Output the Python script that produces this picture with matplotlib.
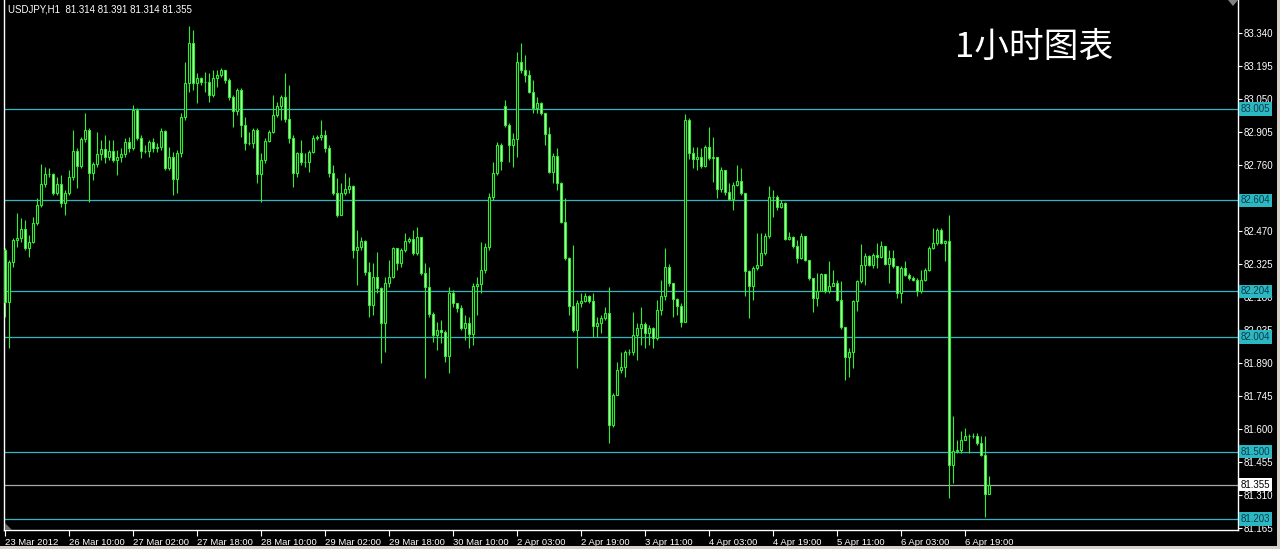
import numpy as np
import matplotlib.pyplot as plt
from matplotlib.patches import Rectangle, Polygon
from matplotlib.transforms import blended_transform_factory

# USDJPY H1 candles, 23 Mar 2012 - 6 Apr 2012
closes = [
    82.159, 82.335, 82.430, 82.438, 82.477, 82.394, 82.423, 82.504, 82.584, 82.676,
    82.720, 82.720, 82.638, 82.676, 82.591, 82.638, 82.706, 82.823, 82.757, 82.874,
    82.914, 82.726, 82.764, 82.808, 82.829, 82.794, 82.823, 82.782, 82.794, 82.808,
    82.862, 82.833, 83.002, 82.877, 82.823, 82.823, 82.862, 82.833, 82.840, 82.909,
    82.745, 82.794, 82.697, 82.814, 82.969, 83.119, 83.294, 83.119, 83.141, 83.123,
    83.126, 83.067, 83.141, 83.155, 83.177, 83.133, 83.057, 82.999, 83.089, 82.936,
    82.855, 82.858, 82.914, 82.720, 82.782, 82.867, 82.906, 82.980, 83.019, 83.057,
    82.961, 82.877, 82.726, 82.811, 82.775, 82.775, 82.818, 82.877, 82.881, 82.892,
    82.833, 82.726, 82.635, 82.540, 82.635, 82.653, 82.668, 82.386, 82.401, 82.427,
    82.291, 82.145, 82.266, 82.218, 82.067, 82.240, 82.269, 82.394, 82.328, 82.386,
    82.427, 82.433, 82.372, 82.442, 82.284, 82.222, 82.105, 82.013, 82.035, 82.028,
    81.921, 82.199, 82.152, 82.130, 82.042, 82.067, 82.017, 82.228, 82.237, 82.299,
    82.398, 82.618, 82.726, 82.848, 82.779, 82.936, 82.848, 82.873, 83.214, 83.177,
    83.155, 83.082, 83.009, 83.034, 82.987, 82.896, 82.731, 82.799, 82.679, 82.511,
    82.350, 82.140, 82.035, 82.152, 82.164, 82.184, 82.164, 82.052, 82.067, 82.086,
    82.111, 81.617, 81.749, 81.859, 81.874, 81.940, 81.940, 82.013, 82.042, 82.061,
    82.020, 82.042, 81.999, 82.123, 82.185, 82.311, 82.240, 82.170, 82.141, 82.068,
    82.958, 82.812, 82.785, 82.794, 82.756, 82.841, 82.790, 82.794, 82.653, 82.736,
    82.639, 82.610, 82.673, 82.690, 82.636, 82.292, 82.226, 82.306, 82.321, 82.375,
    82.446, 82.621, 82.621, 82.574, 82.592, 82.434, 82.443, 82.405, 82.350, 82.446,
    82.343, 82.262, 82.175, 82.208, 82.281, 82.208, 82.226, 82.240, 82.167, 82.047,
    81.918, 81.940, 82.160, 82.248, 82.321, 82.361, 82.321, 82.365, 82.355, 82.402,
    82.325, 82.350, 82.314, 82.199, 82.306, 82.277, 82.262, 82.255, 82.204, 82.255,
    82.299, 82.394, 82.416, 82.475, 82.419, 82.424, 81.442, 81.501, 81.508, 81.552,
    81.570, 81.567, 81.570, 81.537, 81.486, 81.314, 81.355,
]
highs = [
    82.394, 82.343, 82.438, 82.548, 82.526, 82.518, 82.452, 82.533, 82.613, 82.764,
    82.753, 82.745, 82.723, 82.709, 82.716, 82.650, 82.738, 82.914, 82.833, 82.884,
    82.987, 82.921, 82.775, 82.906, 82.870, 82.892, 82.870, 82.870, 82.826, 82.833,
    82.877, 82.884, 83.024, 83.009, 82.892, 82.848, 82.870, 82.877, 82.855, 82.921,
    82.914, 82.840, 82.818, 82.826, 82.987, 83.214, 83.371, 83.353, 83.163, 83.148,
    83.170, 83.163, 83.177, 83.177, 83.185, 83.177, 83.141, 83.067, 83.097, 83.097,
    82.972, 82.906, 82.921, 82.921, 82.811, 82.877, 82.914, 83.067, 83.038, 83.067,
    83.166, 83.111, 82.892, 82.818, 82.870, 82.811, 82.826, 82.892, 82.892, 82.958,
    82.914, 82.848, 82.760, 82.701, 82.679, 82.723, 82.709, 82.672, 82.474, 82.445,
    82.430, 82.335, 82.328, 82.379, 82.225, 82.269, 82.342, 82.401, 82.394, 82.394,
    82.460, 82.445, 82.474, 82.489, 82.442, 82.328, 82.313, 82.115, 82.071, 82.079,
    82.035, 82.225, 82.211, 82.152, 82.145, 82.101, 82.093, 82.240, 82.269, 82.423,
    82.416, 82.635, 82.774, 82.862, 82.855, 83.045, 82.943, 82.899, 83.258, 83.294,
    83.243, 83.177, 83.133, 83.060, 83.038, 82.987, 82.928, 82.811, 82.833, 82.687,
    82.613, 82.357, 82.408, 82.167, 82.196, 82.196, 82.189, 82.196, 82.093, 82.101,
    82.137, 82.225, 81.756, 81.896, 81.940, 81.947, 81.950, 82.115, 82.064, 82.137,
    82.071, 82.056, 82.050, 82.167, 82.255, 82.394, 82.325, 82.240, 82.175, 82.153,
    82.984, 82.965, 82.841, 82.841, 82.834, 82.848, 82.929, 82.885, 82.797, 82.753,
    82.738, 82.680, 82.687, 82.760, 82.746, 82.636, 82.299, 82.314, 82.460, 82.460,
    82.460, 82.668, 82.651, 82.629, 82.607, 82.599, 82.467, 82.446, 82.431, 82.463,
    82.446, 82.343, 82.262, 82.284, 82.284, 82.281, 82.340, 82.299, 82.255, 82.248,
    82.050, 81.955, 82.167, 82.255, 82.413, 82.372, 82.365, 82.372, 82.416, 82.424,
    82.402, 82.387, 82.387, 82.317, 82.314, 82.336, 82.284, 82.270, 82.262, 82.299,
    82.306, 82.402, 82.482, 82.482, 82.482, 82.431, 82.541, 81.658, 81.552, 81.589,
    81.603, 81.578, 81.581, 81.581, 81.567, 81.567, 81.391,
]
lows = [
    82.094, 81.954, 82.313, 82.401, 82.423, 82.386, 82.357, 82.416, 82.496, 82.577,
    82.665, 82.709, 82.628, 82.628, 82.577, 82.540, 82.628, 82.694, 82.657, 82.745,
    82.862, 82.599, 82.694, 82.753, 82.782, 82.767, 82.782, 82.775, 82.716, 82.775,
    82.797, 82.818, 82.826, 82.870, 82.789, 82.811, 82.797, 82.818, 82.818, 82.826,
    82.738, 82.738, 82.628, 82.635, 82.797, 82.958, 83.082, 83.089, 83.031, 83.111,
    83.082, 83.038, 83.060, 83.104, 83.148, 83.119, 83.046, 82.928, 82.980, 82.884,
    82.826, 82.848, 82.833, 82.679, 82.599, 82.767, 82.862, 82.899, 82.972, 82.958,
    82.950, 82.855, 82.665, 82.709, 82.760, 82.753, 82.731, 82.811, 82.870, 82.870,
    82.818, 82.709, 82.628, 82.533, 82.540, 82.628, 82.635, 82.350, 82.233, 82.386,
    82.277, 82.093, 82.101, 82.196, 81.888, 81.940, 82.225, 82.262, 82.299, 82.313,
    82.379, 82.416, 82.364, 82.364, 82.277, 81.823, 82.093, 81.984, 81.947, 81.976,
    81.896, 81.844, 82.137, 82.115, 82.035, 81.991, 81.954, 81.969, 82.101, 82.196,
    82.284, 82.386, 82.606, 82.716, 82.738, 82.928, 82.774, 82.753, 82.796, 83.163,
    83.126, 83.075, 82.987, 82.987, 82.980, 82.848, 82.723, 82.679, 82.650, 82.504,
    82.342, 82.101, 82.028, 81.866, 82.137, 82.159, 82.152, 82.006, 82.006, 82.020,
    82.079, 81.537, 81.610, 81.749, 81.844, 81.830, 81.925, 81.925, 81.903, 81.969,
    81.954, 81.969, 81.955, 81.992, 82.101, 82.167, 82.226, 82.094, 82.101, 82.050,
    82.068, 82.785, 82.746, 82.738, 82.746, 82.753, 82.782, 82.687, 82.614, 82.643,
    82.629, 82.607, 82.563, 82.668, 82.629, 82.182, 82.087, 82.167, 82.299, 82.314,
    82.365, 82.438, 82.533, 82.563, 82.570, 82.431, 82.431, 82.394, 82.331, 82.346,
    82.336, 82.255, 82.112, 82.138, 82.204, 82.199, 82.199, 82.226, 82.160, 82.038,
    81.816, 81.830, 81.867, 82.116, 82.240, 82.233, 82.314, 82.306, 82.306, 82.350,
    82.321, 82.240, 82.306, 82.175, 82.153, 82.270, 82.255, 82.248, 82.182, 82.199,
    82.248, 82.292, 82.390, 82.409, 82.413, 82.336, 81.296, 81.362, 81.494, 81.494,
    81.552, 81.494, 81.559, 81.530, 81.479, 81.215, 81.314,
]
first_open = 82.386
gap_opens = {125: 83.019}  # weekend gap 30 Mar -> 2 Apr

levels = [83.005, 82.604, 82.204, 82.004, 81.500, 81.203]
bid = 81.355
price_ticks = [83.340, 83.195, 83.050, 82.905, 82.760, 82.615, 82.470, 82.325,
               82.180, 82.035, 81.890, 81.745, 81.600, 81.455, 81.310, 81.165]
hidden_ticks = [82.615]  # fully covered by the 82.604 tag in the original
time_pos = [0, 16, 32, 48, 64, 80, 96, 112, 128, 144, 160, 176, 192, 208, 224, 240]
time_labels = ['23 Mar 2012', '26 Mar 10:00', '27 Mar 02:00', '27 Mar 18:00',
               '28 Mar 10:00', '29 Mar 02:00', '29 Mar 18:00', '30 Mar 10:00',
               '2 Apr 03:00', '2 Apr 19:00', '3 Apr 11:00', '4 Apr 03:00',
               '4 Apr 19:00', '5 Apr 11:00', '6 Apr 03:00', '6 Apr 19:00']
header = 'USDJPY,H1  81.314 81.391 81.314 81.355'
title = '1小时图表'

closes = np.array(closes)
highs = np.array(highs)
lows = np.array(lows)
opens = np.concatenate([[first_open], closes[:-1]])
for k, v in gap_opens.items():
    opens[k] = v
idx = np.arange(len(closes))

LIME = '#2ef02e'
PALE = '#c4ffbc'
CYAN = '#2cb8c2'
FONT = 'Liberation Sans'

W, H = 1280, 549
fig = plt.figure(figsize=(W / 100, H / 100), dpi=100, facecolor='black')
ax = fig.add_axes([4 / W, (H - 530) / H, 1234 / W, 530 / H])
ax.set_facecolor('black')
ax.set_xlim(-0.25, 308.25)
ax.set_ylim(81.1557, 83.485)

for lv in levels:
    ax.axhline(lv, color=CYAN, lw=0.9, zorder=1)
ax.axhline(bid, color='#a8a8a8', lw=0.9, zorder=1)

# wicks then bodies
ax.vlines(idx, lows, highs, color=LIME, lw=0.8, zorder=2)
bull = closes >= opens
bottoms = np.minimum(opens, closes)
heights = np.abs(closes - opens)
ax.bar(idx[bull], heights[bull], bottom=bottoms[bull], width=0.62,
       facecolor='black', edgecolor=LIME, linewidth=0.8, zorder=3)
ax.bar(idx[~bull], heights[~bull], bottom=bottoms[~bull], width=0.62,
       facecolor=PALE, edgecolor=LIME, linewidth=0.8, zorder=3)

for s in ['left', 'right', 'bottom']:
    ax.spines[s].set_color('white')
    ax.spines[s].set_linewidth(1.0)
ax.spines['top'].set_visible(False)

ax.yaxis.tick_right()
ax.set_yticks(price_ticks)
ax.set_yticklabels(['' if p in hidden_ticks else '%.3f' % p for p in price_ticks])
ax.tick_params(axis='y', colors='white', length=3, width=0.8, pad=1,
               labelsize=7, labelfontfamily=FONT)
ax.set_xticks(time_pos)
ax.set_xticklabels(time_labels, ha='left')
ax.tick_params(axis='x', colors='white', length=4, width=0.8, pad=2,
               labelsize=6.8, labelfontfamily=FONT)

trans = blended_transform_factory(ax.transAxes, ax.transData)
for lv in levels:
    ax.text(1.0 + 3 / 1234, lv, '%.3f' % lv, transform=trans, ha='left', va='center',
            fontsize=7, family=FONT, color='#0c3a48', zorder=10, clip_on=False,
            bbox=dict(boxstyle='square,pad=0.18', fc=CYAN, ec='none'))
ax.text(1.0 + 3 / 1234, bid, '%.3f' % bid, transform=trans, ha='left', va='center',
        fontsize=7, family=FONT, color='black', zorder=10, clip_on=False,
        bbox=dict(boxstyle='square,pad=0.18', fc='white', ec='none'))

fig.text(8 / W, 1 - 9 / H, header, color='white', fontsize=7, family=FONT,
         ha='left', va='center')
fig.text(955 / W, 1 - 47 / H, title, color='white', fontsize=25,
         family=['Noto Sans CJK SC', 'DejaVu Sans'], ha='left', va='center')

# small markers and window frame
fig.patches.append(Polygon([[1228 / W, 1.0], [1238 / W, 1.0], [1233 / W, 1 - 6 / H]],
                           closed=True, transform=fig.transFigure, fc='#808080', ec='none'))
fig.patches.append(Polygon([[5 / W, 1 - 523 / H], [5 / W, 1 - 530 / H], [12 / W, 1 - 530 / H]],
                           closed=True, transform=fig.transFigure, fc='#707070', ec='none'))
fig.patches.append(Rectangle((1277 / W, 0), 3 / W, 1, transform=fig.transFigure,
                             fc='#d4d0c8', ec='none'))
fig.patches.append(Rectangle((0, 0), 1, 3 / H, transform=fig.transFigure,
                             fc='#d4d0c8', ec='none'))

fig.savefig('out.png', dpi=100, facecolor='black')
